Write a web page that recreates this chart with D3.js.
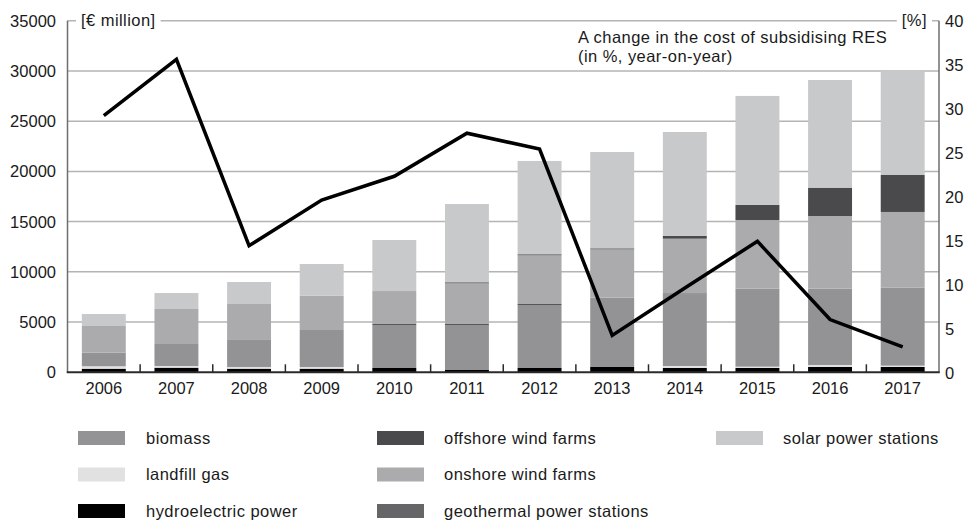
<!DOCTYPE html>
<html>
<head>
<meta charset="utf-8">
<script src="https://cdn.jsdelivr.net/npm/d3@7"></script>
<style>
  html, body { margin: 0; padding: 0; background: #fff; }
  svg text { font-family: "Liberation Sans", Arial, sans-serif; fill: #1a1a1a; }
  svg text.wide { letter-spacing: 0.45px; }
</style>
</head>
<body>
<svg id="chart" width="973" height="521"></svg>
<script>
// RES support costs by technology, € million, stacked bottom-up
const years      = [2006, 2007, 2008, 2009, 2010, 2011, 2012, 2013, 2014, 2015, 2016, 2017];
const hydro      = [360, 460, 360, 360, 430, 230, 430, 530, 430, 430, 530, 530];
const landfill   = [240, 170, 170, 170, 0, 0, 0, 0, 200, 130, 200, 130];
const biomass    = [1350, 2190, 2690, 3680, 4280, 4480, 6270, 6900, 7130, 7760, 7590, 7760];
const geothermal = [0, 0, 0, 0, 100, 100, 100, 0, 100, 0, 0, 0];
const onshore    = [2660, 3480, 3580, 3420, 3280, 4050, 4850, 4810, 5440, 6840, 7240, 7540];
const offshore   = [0, 0, 0, 0, 0, 100, 100, 100, 290, 1500, 2820, 3680];
const solar      = [1190, 1590, 2190, 3150, 5080, 7790, 9290, 9590, 10330, 10850, 10720, 10360];
// year-on-year change in the cost of subsidising RES, %
const change     = [29.2, 35.6, 14.4, 19.6, 22.3, 27.2, 25.4, 4.2, 9.6, 14.9, 6.0, 2.9];

const leftTicks  = [0, 5000, 10000, 15000, 20000, 25000, 30000, 35000];
const rightTicks = [0, 5, 10, 15, 20, 25, 30, 35, 40];

const series = [
  { key: "hydro",      label: "hydroelectric power",       values: hydro,      color: "#000000" },
  { key: "landfill",   label: "landfill gas",              values: landfill,   color: "#e1e1e2" },
  { key: "biomass",    label: "biomass",                   values: biomass,    color: "#939396" },
  { key: "geothermal", label: "geothermal power stations", values: geothermal, color: "#555557" },
  { key: "onshore",    label: "onshore wind farms",        values: onshore,    color: "#ababae" },
  { key: "offshore",   label: "offshore wind farms",       values: offshore,   color: "#4a4a4c" },
  { key: "solar",      label: "solar power stations",      values: solar,      color: "#c8c9cb" }
];

const legendCols = [
  ["biomass", "landfill", "hydro"],
  ["offshore", "onshore", "geothermal"],
  ["solar"]
];
const legendColors = { geothermal: "#666668" };

const svg = d3.select("#chart");
const plotL = 67.5, plotR = 939, plotT = 20.7, plotB = 372.3;
const fs = 16.5;

const x = d3.scaleBand().domain(years).range([plotL, plotR]).padding(0);
const yL = d3.scaleLinear().domain([0, 35000]).range([plotB, plotT]);
const yR = d3.scaleLinear().domain([0, 40]).range([plotB, plotT]);

const table = years.map((yr, i) => {
  const row = { year: yr };
  series.forEach(s => row[s.key] = s.values[i]);
  return row;
});
const stacked = d3.stack().keys(series.map(s => s.key))(table);

// gridlines
svg.append("g").selectAll("line").data(leftTicks.filter(d => d > 0)).join("line")
  .attr("x1", plotL).attr("x2", plotR)
  .attr("y1", d => yL(d)).attr("y2", d => yL(d))
  .attr("stroke", "#b4b4b4").attr("stroke-width", 1.5);

// stacked bars
const barW = x.bandwidth() * 0.605;
const layers = svg.append("g").selectAll("g").data(stacked).join("g")
  .attr("fill", (d, i) => series[i].color);
layers.selectAll("rect").data(d => d).join("rect")
  .attr("x", d => x(d.data.year) + (x.bandwidth() - barW) / 2)
  .attr("width", barW)
  .attr("y", d => yL(d[1]))
  .attr("height", d => Math.max(0, yL(d[0]) - yL(d[1])));

// axis lines
svg.append("line").attr("x1", plotL).attr("x2", plotL).attr("y1", plotT).attr("y2", plotB)
  .attr("stroke", "#6e6e6e").attr("stroke-width", 1.5);
svg.append("line").attr("x1", plotR).attr("x2", plotR).attr("y1", plotT).attr("y2", plotB)
  .attr("stroke", "#6e6e6e").attr("stroke-width", 1.5);
svg.append("line").attr("x1", plotL - 0.75).attr("x2", plotR + 0.75).attr("y1", plotB).attr("y2", plotB)
  .attr("stroke", "#2a2a2a").attr("stroke-width", 2);

// category separators on the baseline
svg.append("g").selectAll("line").data(years.slice(1)).join("line")
  .attr("x1", d => x(d)).attr("x2", d => x(d))
  .attr("y1", plotB - 8).attr("y2", plotB)
  .attr("stroke", "#2a2a2a").attr("stroke-width", 1.5);

// left axis labels
svg.append("g").selectAll("text").data(leftTicks).join("text")
  .attr("x", 56).attr("y", d => yL(d)).attr("dy", "0.36em")
  .attr("text-anchor", "end").attr("font-size", fs)
  .text(d => d);

// right axis labels
svg.append("g").selectAll("text").data(rightTicks).join("text")
  .attr("x", 945).attr("y", d => yR(d)).attr("dy", "0.4em")
  .attr("text-anchor", "start").attr("font-size", fs)
  .text(d => d);

// year labels
svg.append("g").selectAll("text").data(years).join("text")
  .attr("x", d => x(d) + x.bandwidth() / 2).attr("y", 388).attr("dy", "0.36em")
  .attr("text-anchor", "middle").attr("font-size", fs)
  .text(d => d);

// unit labels sitting on the top gridline
function unitLabel(txt, xPos, anchor) {
  const g = svg.append("g");
  const bg = g.append("rect").attr("fill", "#fff");
  const t = g.append("text").attr("class", "wide").attr("x", xPos).attr("y", plotT).attr("dy", "0.34em")
    .attr("text-anchor", anchor).attr("font-size", fs).text(txt);
  const b = t.node().getBBox();
  bg.attr("x", b.x - 5).attr("y", b.y).attr("width", b.width + 10).attr("height", b.height);
}
unitLabel("[€ million]", 81, "start");
unitLabel("[%]", 927, "end");

// line annotation
const note = svg.append("text").attr("class", "wide").attr("x", 578).attr("y", 37).attr("font-size", fs);
note.append("tspan").attr("x", 578).attr("dy", "0.35em").text("A change in the cost of subsidising RES");
note.append("tspan").attr("x", 578).attr("dy", 19.5).text("(in %, year-on-year)");

// percentage change line
const line = d3.line()
  .x((d, i) => x(years[i]) + x.bandwidth() / 2)
  .y(d => yR(d));
svg.append("path").datum(change)
  .attr("d", line)
  .attr("fill", "none").attr("stroke", "#000").attr("stroke-width", 3.5)
  .attr("stroke-linejoin", "miter");

// legend
const colX = [[78, 146], [377, 444], [716, 783]];
const rowY = [438, 474.5, 511];
legendCols.forEach((col, ci) => {
  col.forEach((key, ri) => {
    const s = series.find(d => d.key === key);
    svg.append("rect")
      .attr("x", colX[ci][0]).attr("y", rowY[ri] - 7)
      .attr("width", 47).attr("height", 14)
      .attr("fill", legendColors[key] || s.color);
    svg.append("text").attr("class", "wide")
      .attr("x", colX[ci][1]).attr("y", rowY[ri]).attr("dy", "0.35em")
      .attr("font-size", fs).text(s.label);
  });
});
</script>
</body>
</html>
